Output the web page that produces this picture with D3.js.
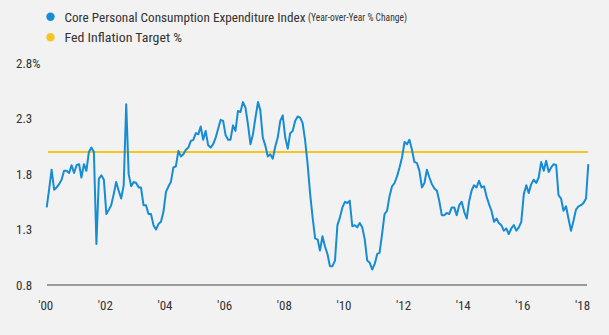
<!DOCTYPE html>
<html>
<head>
<meta charset="utf-8">
<script src="https://cdn.jsdelivr.net/npm/d3@7"></script>
<style>
  html, body { margin: 0; padding: 0; background: #f2f2f2; }
  svg { display: block; }
  text { font-family: "Roboto Condensed", "Liberation Sans Narrow", "DejaVu Sans Condensed", "Roboto", sans-serif; fill: #333; }
</style>
</head>
<body>
<svg width="609" height="335"></svg>
<script>
// monthly data, Jan 2000 .. Mar 2018
const startMonth = new Date(2000, 0, 1);
const corePce = [
  1.50, 1.67, 1.84, 1.66, 1.68, 1.71, 1.75, 1.83, 1.83, 1.81, 1.88, 1.81,
  1.88, 1.89, 1.77, 1.89, 1.83, 2.00, 2.04, 2.00, 1.17, 1.76, 1.79, 1.75,
  1.44, 1.48, 1.52, 1.62, 1.73, 1.65, 1.58, 1.70, 2.43, 1.80, 1.69, 1.73,
  1.72, 1.68, 1.68, 1.52, 1.52, 1.44, 1.44, 1.34, 1.30, 1.35, 1.37, 1.46,
  1.64, 1.69, 1.73, 1.86, 1.87, 2.01, 1.96, 1.98, 2.02, 2.04, 2.10, 2.11,
  2.17, 2.16, 2.23, 2.11, 2.19, 2.06, 2.04, 2.07, 2.13, 2.21, 2.29, 2.28,
  2.15, 2.11, 2.11, 2.24, 2.19, 2.37, 2.36, 2.45, 2.40, 2.25, 2.07, 2.16,
  2.31, 2.45, 2.38, 2.13, 2.06, 1.96, 1.98, 1.94, 2.05, 2.13, 2.28, 2.33,
  2.13, 2.03, 2.17, 2.19, 2.28, 2.32, 2.31, 2.26, 2.10, 1.89, 1.62, 1.41,
  1.22, 1.21, 1.11, 1.24, 1.15, 1.08, 0.97, 0.97, 1.02, 1.34, 1.41, 1.50,
  1.55, 1.54, 1.56, 1.33, 1.34, 1.32, 1.36, 1.32, 1.21, 1.02, 1.00, 0.94,
  0.99, 1.08, 1.09, 1.26, 1.44, 1.47, 1.60, 1.69, 1.72, 1.78, 1.86, 1.95,
  2.09, 2.07, 2.11, 2.02, 1.91, 1.90, 1.83, 1.68, 1.72, 1.84, 1.77, 1.71,
  1.67, 1.65, 1.56, 1.43, 1.43, 1.45, 1.44, 1.50, 1.50, 1.43, 1.52, 1.55,
  1.46, 1.40, 1.55, 1.65, 1.70, 1.68, 1.74, 1.68, 1.69, 1.60, 1.53, 1.47,
  1.37, 1.40, 1.36, 1.34, 1.29, 1.31, 1.26, 1.31, 1.34, 1.29, 1.32, 1.37,
  1.62, 1.70, 1.63, 1.71, 1.75, 1.72, 1.77, 1.91, 1.83, 1.92, 1.82, 1.86,
  1.89, 1.88, 1.61, 1.58, 1.47, 1.51, 1.40, 1.29, 1.38, 1.48, 1.51, 1.52,
  1.54, 1.58, 1.89
];
const fedTarget = 2.0;
const yTicks = [0.8, 1.3, 1.8, 2.3, 2.8];
const xTickYears = [2000, 2002, 2004, 2006, 2008, 2010, 2012, 2014, 2016, 2018];
const xTickLabels = ["'00", "'02", "'04", "'06", "'08", "'10", "'12", "'14", "'16", "'18"];
const legendNames = ["Core Personal Consumption Expenditure Index", "Fed Inflation Target %"];
const legendNotes = ["(Year-over-Year % Change)", ""];
const legendColors = ["#168cd4", "#f3c623"];

const svg = d3.select("svg");

// 每個值對應到月份
const series = corePce.map((v, i) => ({ date: d3.timeMonth.offset(startMonth, i), value: v }));

const x = d3.scaleTime()
  .domain([startMonth, series[series.length - 1].date])
  .range([46.7, 588.3]);

const y = d3.scaleLinear()
  .domain([0.8, 2.8])
  .range([285, 63.3]);

// baseline
svg.append("line")
  .attr("x1", 47).attr("x2", 587)
  .attr("y1", y(0.8)).attr("y2", y(0.8))
  .attr("stroke", "#9a9a9a")
  .attr("stroke-width", 2);

// y axis labels
const yAxis = svg.append("g")
  .attr("transform", "translate(16,0)")
  .call(d3.axisLeft(y).tickValues(yTicks).tickSize(0)
    .tickFormat(d => d === 2.8 ? "2.8%" : d3.format(".1f")(d)));
yAxis.select(".domain").remove();
yAxis.selectAll("text")
  .attr("x", 0)
  .attr("text-anchor", "start")
  .attr("font-size", 13)
  .attr("fill", "#333");

// x axis labels
const xAxis = svg.append("g")
  .attr("transform", "translate(-1.5,298)")
  .call(d3.axisBottom(x)
    .tickValues(xTickYears.map(yr => new Date(yr, 0, 1)))
    .tickSize(0)
    .tickFormat((d, i) => xTickLabels[i]));
xAxis.select(".domain").remove();
xAxis.selectAll("text")
  .attr("font-size", 13)
  .attr("fill", "#333");

// target line
svg.append("line")
  .attr("x1", 48).attr("x2", 588)
  .attr("y1", y(fedTarget)).attr("y2", y(fedTarget))
  .attr("stroke", legendColors[1])
  .attr("stroke-width", 2);

// core pce line
svg.append("path")
  .datum(series)
  .attr("fill", "none")
  .attr("stroke", legendColors[0])
  .attr("stroke-width", 2)
  .attr("stroke-linejoin", "round")
  .attr("d", d3.line().x(d => x(d.date)).y(d => y(d.value)));

// legend
const legend = svg.selectAll(".legend")
  .data(legendNames)
  .enter()
  .append("g")
  .attr("class", "legend")
  .attr("transform", (d, i) => `translate(50.5,${16.7 + i * 20.6})`);

legend.append("circle")
  .attr("r", 4.2)
  .attr("fill", (d, i) => legendColors[i]);

// 字寬對齊原圖
const mainWidths = [241, 117.5];
legend.append("text")
  .attr("x", 14)
  .attr("y", 5)
  .attr("font-size", 13.6)
  .attr("textLength", (d, i) => mainWidths[i])
  .attr("lengthAdjust", "spacingAndGlyphs")
  .text(d => d);

legend.filter((d, i) => legendNotes[i] !== "")
  .append("text")
  .attr("x", 257.5)
  .attr("y", 4.5)
  .attr("font-size", 11.3)
  .attr("textLength", 99)
  .attr("lengthAdjust", "spacingAndGlyphs")
  .text((d, i) => legendNotes[0]);
</script>
</body>
</html>
